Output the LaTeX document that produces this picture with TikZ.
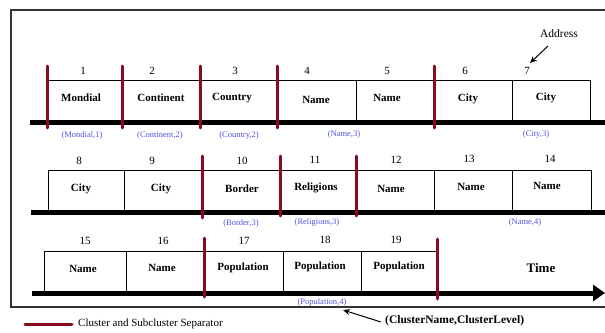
\documentclass[tikz,border=0pt]{standalone}
\usepackage{fontspec}
\setmainfont{Liberation Serif}
\usetikzlibrary{arrows.meta}
\definecolor{sepred}{RGB}{135,12,32}
\definecolor{clblue}{RGB}{80,80,225}
\tikzset{
  box/.style={draw=black, line width=1.1pt, inner sep=0pt, anchor=south west},
  num/.style={font=\fontsize{11}{13}\selectfont, inner sep=1pt},
  lab/.style={font=\fontsize{11}{13}\selectfont\bfseries, inner sep=1pt},
  cl/.style={font=\fontsize{8.5}{10}\selectfont, text=clblue, inner sep=1pt},
  timeline/.style={line width=5pt, black},
  sep/.style={line width=3pt, sepred, line cap=round},
  thinarr/.style={line width=1pt, -{Stealth[length=7pt,width=6pt]}},
}
\begin{document}
\begin{tikzpicture}[x=1pt,y=-1pt]
\useasboundingbox (0,0) rectangle (605,332);
% frame
\draw[line width=1.1pt, black!80] (607,10) -- (11,10) -- (11,307) -- (607,307);

% ---------- Row 1 ----------
\foreach \n/\a/\b in {1/47/122, 2/122/200, 3/200/277, 4/277/356, 5/356/434, 6/434/512, 7/512/590}{
  \pgfmathsetmacro{\w}{\b-\a}
  \node[box, minimum width=\w pt, minimum height=41.8pt] (b\n) at (\a,122.5) {};
}
\node[num] (n1) at (83,71) {1};
\node[num] (n2) at (152,71) {2};
\node[num] (n3) at (235,71) {3};
\node[num] (n4) at (307,71) {4};
\node[num] (n5) at (387,71) {5};
\node[num] (n6) at (465,71) {6};
\node[num] (n7) at (527,71) {7};
\node[lab] (l1) at (81,98) {Mondial};
\node[lab] (l2) at (161,98) {Continent};
\node[lab] (l3) at (232,98) {Country};
\node[lab] (l4) at (316,99.5) {Name};
\node[lab] (l5) at (387,98) {Name};
\node[lab] (l6) at (468,99) {City};
\node[lab] (l7) at (546,98) {City};
\node[cl] (c1) at (82,135) {(Mondial,1)};
\node[cl] (c2) at (160,135) {(Continent,2)};
\node[cl] (c3) at (239,135) {(Country,2)};
\node[cl] (c4) at (344,134) {(Name,3)};
\node[cl] (c7) at (536,134) {(City,3)};
\node[font=\fontsize{11.5}{13}\selectfont, inner sep=1pt] (addr) at (559,34) {Address};
\coordinate (addrtail) at (548,46);
\coordinate (addrtip) at (530,63);
\draw[thinarr] (addrtail) -- (addrtip);
\coordinate (t1s) at (30,122.5);
\coordinate (t1e) at (607,122.5);
\draw[timeline] (t1s) -- (t1e);
\foreach \x in {47,122,200,277,434}{
  \draw[sep] (\x,66) -- (\x,128);
}

% ---------- Row 2 ----------
\foreach \n/\a/\b in {8/48/124, 9/124/202, 10/202/280, 11/280/356, 12/356/434, 13/434/512, 14/512/591}{
  \pgfmathsetmacro{\w}{\b-\a}
  \node[box, minimum width=\w pt, minimum height=41.5pt] (b\n) at (\a,212.5) {};
}
\node[num] (n8) at (79,161) {8};
\node[num] (n9) at (152,161) {9};
\node[num] (n10) at (242,161) {10};
\node[num] (n11) at (315,160) {11};
\node[num] (n12) at (396,160) {12};
\node[num] (n13) at (469,159) {13};
\node[num] (n14) at (550,159) {14};
\node[lab] (l8) at (81,189) {City};
\node[lab] (l9) at (161,189) {City};
\node[lab] (l10) at (242,189) {Border};
\node[lab] (l11) at (316,188) {Religions};
\node[lab] (l12) at (391,189) {Name};
\node[lab] (l13) at (471,187) {Name};
\node[lab] (l14) at (547,186) {Name};
\node[cl] (c10) at (241,223) {(Border,3)};
\node[cl] (c11) at (317,222) {(Religions,3)};
\node[cl] (c14) at (525,222) {(Name,4)};
\coordinate (t2s) at (31,212.5);
\coordinate (t2e) at (607,212.5);
\draw[timeline] (t2s) -- (t2e);
\draw[sep] (202,156) -- (202,218);
\draw[sep] (280,156) -- (280,216);
\draw[sep] (356,156) -- (356,216);

% ---------- Row 3 ----------
\foreach \n/\a/\b in {15/44/126, 16/126/204, 17/204/283, 18/283/361, 19/361/437}{
  \pgfmathsetmacro{\w}{\b-\a}
  \node[box, minimum width=\w pt, minimum height=41pt] (b\n) at (\a,293) {};
}
\node[num] (n15) at (85,241) {15};
\node[num] (n16) at (163,241) {16};
\node[num] (n17) at (244,241) {17};
\node[num] (n18) at (325,240) {18};
\node[num] (n19) at (396,240) {19};
\node[lab] (l15) at (83,269) {Name};
\node[lab] (l16) at (162,268) {Name};
\node[lab] (l17) at (243,268) {Population};
\node[lab] (l18) at (320,267) {Population};
\node[lab] (l19) at (399,267) {Population};
\node[font=\fontsize{13}{15}\selectfont\bfseries, inner sep=1pt] (time) at (541,268) {Time};
\node[cl] (c18) at (322,302) {(Population,4)};
\coordinate (t3s) at (32,293);
\coordinate (t3e) at (605,293);
\draw[timeline, -{Triangle[length=12pt,width=16pt]}] (t3s) -- (t3e);
\draw[sep] (204,238) -- (204,297);
\draw[sep] (437,239) -- (437,299);

% ---------- Legend ----------
\coordinate (lg1) at (25,324);
\coordinate (lg2) at (72,324);
\draw[sep, line cap=round] (lg1) -- (lg2);
\node[font=\fontsize{11}{13}\selectfont, anchor=west, inner sep=0pt] (lgt) at (78,324) {Cluster and Subcluster Separator};
\node[font=\fontsize{11.5}{13}\selectfont\bfseries, anchor=west, inner sep=0pt] (cn) at (385,321) {(ClusterName,ClusterLevel)};
\coordinate (cntip) at (343,310);
\draw[thinarr] ([xshift=-4pt,yshift=-1pt]cn.west) -- (cntip);
\end{tikzpicture}
\end{document}
